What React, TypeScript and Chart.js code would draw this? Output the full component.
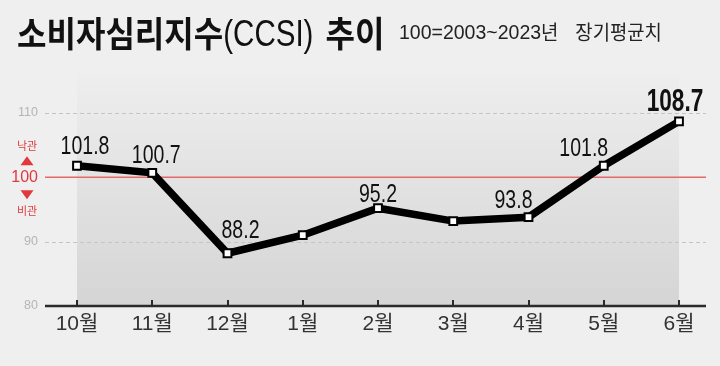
import React, { useEffect, useRef } from 'react';
import { Chart, registerables } from 'chart.js';

Chart.register(...registerables);

// ---- data ----
const months = ['10월', '11월', '12월', '1월', '2월', '3월', '4월', '5월', '6월'];
const ccsi = [101.8, 100.7, 88.2, 91.0, 95.2, 93.2, 93.8, 101.8, 108.7];
const valueLabels = ['101.8', '100.7', '88.2', '', '95.2', '', '93.8', '101.8', '108.7'];
const yMin = 80;
const yMax = 110;
const yStep = 10;
const baseline = 100;
const titleMain = '소비자심리지수';
const titleAbbr = '(CCSI)';
const titleTail = '추이';
const subtitleNum = '100=2003~2023';
const subtitleYear = '년';
const subtitleText = '장기평균치';
const upLabel = '낙관';
const downLabel = '비관';

// ---- styles ----
const SANS = '"Liberation Sans", "Noto Sans CJK KR", sans-serif';
const KR = '"Noto Sans CJK KR", sans-serif';
const RED = '#e0393e';
const NARROW_X = 0.82;
const LABEL_X = 0.75;
const labelOffsets: number[][] = [[8, -12], [4, -9.5], [13, -15], [0, 0], [0, -6], [0, 0], [-15, -9], [-20, -9.5], [-4, -10]];

function txt(ctx: CanvasRenderingContext2D, s: string, x: number, y: number, font: string, color: string,
  align: CanvasTextAlign = 'left', base: CanvasTextBaseline = 'alphabetic', sx = 1): number {
  ctx.save();
  ctx.font = font;
  ctx.fillStyle = color;
  ctx.textAlign = align;
  ctx.textBaseline = base;
  ctx.translate(x, y);
  ctx.scale(sx, 1);
  ctx.fillText(s, 0, 0);
  const w = ctx.measureText(s).width * sx;
  ctx.restore();
  return w;
}

const decor = {
  id: 'decor',
  beforeDraw(chart: any) {
    const { ctx, chartArea: a, scales } = chart;
    const x = scales.x, y = scales.y;
    ctx.save();
    ctx.fillStyle = '#efefef';
    ctx.fillRect(0, 0, chart.width, chart.height);

    // shaded band behind series
    const x0 = x.getPixelForValue(0);
    const x1 = x.getPixelForValue(months.length - 1);
    const yb = y.getPixelForValue(yMin);
    const yt = a.top - 40;
    const g = ctx.createLinearGradient(0, yt, 0, yb);
    g.addColorStop(0, '#eeeeee');
    g.addColorStop(1, '#d5d5d5');
    ctx.fillStyle = g;
    ctx.fillRect(x0, yt, x1 - x0, yb - yt);

    const L = a.left - 32, R = a.right + 27;
    // dashed grid
    ctx.setLineDash([4, 3]);
    ctx.strokeStyle = '#c4c4c4';
    ctx.lineWidth = 1;
    for (let v = yMin + yStep; v <= yMax; v += yStep) {
      if (v === baseline) continue;
      const py = Math.round(y.getPixelForValue(v)) + 0.5;
      ctx.beginPath(); ctx.moveTo(L, py); ctx.lineTo(R, py); ctx.stroke();
    }
    ctx.setLineDash([]);
    // baseline 100
    const p100 = y.getPixelForValue(baseline);
    ctx.strokeStyle = '#e46a6a';
    ctx.lineWidth = 1.5;
    ctx.beginPath(); ctx.moveTo(L, p100); ctx.lineTo(R, p100); ctx.stroke();
    // axis line
    ctx.strokeStyle = '#2a2a2a';
    ctx.lineWidth = 2.5;
    ctx.beginPath(); ctx.moveTo(L, yb); ctx.lineTo(R, yb); ctx.stroke();
    ctx.lineWidth = 2;
    months.forEach((_, i) => {
      const px = Math.round(x.getPixelForValue(i));
      ctx.beginPath(); ctx.moveTo(px, yb); ctx.lineTo(px, yb - 6); ctx.stroke();
    });

    // optimism / pessimism markers
    const cx = a.left - 50;
    txt(ctx, upLabel, cx, p100 - 32, '11px ' + KR, RED, 'center', 'middle');
    txt(ctx, downLabel, cx, p100 + 33, '11px ' + KR, RED, 'center', 'middle');
    ctx.fillStyle = RED;
    ctx.beginPath();
    ctx.moveTo(cx - 6.5, p100 - 12); ctx.lineTo(cx + 6.5, p100 - 12); ctx.lineTo(cx, p100 - 21); ctx.closePath(); ctx.fill();
    ctx.beginPath();
    ctx.moveTo(cx - 6.5, p100 + 13); ctx.lineTo(cx + 6.5, p100 + 13); ctx.lineTo(cx, p100 + 22); ctx.closePath(); ctx.fill();

    // title
    let tx = 17;
    tx += txt(ctx, titleMain, tx, 47, 'bold 35px ' + KR, '#111', 'left', 'alphabetic', 0.915);
    tx += txt(ctx, titleAbbr, tx, 46, '36px ' + SANS, '#111', 'left', 'alphabetic', NARROW_X);
    tx += 12;
    txt(ctx, titleTail, tx, 47, 'bold 35px ' + KR, '#111', 'left', 'alphabetic', 0.915);
    let sx = 399;
    sx += txt(ctx, subtitleNum, sx, 39, '19.5px ' + SANS, '#222');
    sx += txt(ctx, subtitleYear, sx, 40, '20px ' + KR, '#222', 'left', 'alphabetic', 0.94);
    sx += 17;
    txt(ctx, subtitleText, sx, 40, '20px ' + KR, '#222', 'left', 'alphabetic', 0.94);
    ctx.restore();
  },
  afterDatasetsDraw(chart: any) {
    const { ctx } = chart;
    const meta = chart.getDatasetMeta(0);
    meta.data.forEach((pt: any, i: number) => {
      const s = valueLabels[i];
      if (!s) return;
      const last = i === valueLabels.length - 1;
      const [dx, dy] = labelOffsets[i];
      txt(ctx, s, pt.x + dx, pt.y + dy, (last ? 'bold 31px ' : '26px ') + SANS, '#111', 'center', 'alphabetic', last ? 0.73 : LABEL_X);
    });
  },
};

export default function App() {
  const ref = useRef<HTMLCanvasElement>(null);
  useEffect(() => {
    if (!ref.current) return;
    const chart = new Chart(ref.current, {
      type: 'line',
      data: {
        labels: months,
        datasets: [{
          data: ccsi,
          borderColor: '#000',
          borderWidth: 7.5,
          borderJoinStyle: 'miter',
          pointStyle: 'rect',
          pointRadius: 5.5,
          pointBackgroundColor: '#fff',
          pointBorderColor: '#000',
          pointBorderWidth: 2,
          tension: 0,
          fill: false,
        }],
      },
      options: {
        animation: false,
        responsive: false,
        layout: { padding: { top: 113, right: 41, bottom: 0, left: 0 } },
        plugins: { legend: { display: false }, tooltip: { enabled: false }, title: { display: false } },
        scales: {
          x: {
            offset: false,
            grid: { display: false, drawTicks: false },
            border: { display: false },
            ticks: { color: '#333', font: { family: SANS, size: 21 }, padding: 6, maxRotation: 0, autoSkip: false },
            afterFit: (s: any) => { s.height = 60; },
          },
          y: {
            min: yMin,
            max: yMax,
            grid: { display: false, drawTicks: false },
            border: { display: false },
            ticks: {
              stepSize: yStep,
              padding: 39,
              color: (c: any) => (c.tick && c.tick.value === baseline ? RED : '#b5b5b5'),
              font: (c: any) => (c.tick && c.tick.value === baseline ? { family: SANS, size: 16 } : { family: SANS, size: 12.5 }),
            },
            afterFit: (s: any) => { s.width = 77; },
          },
        },
      },
      plugins: [decor],
    });
    return () => chart.destroy();
  }, []);
  return (
    <div style={{ position: 'fixed', left: 0, top: 0, width: 720, height: 366, background: '#efefef' }}>
      <canvas ref={ref} width={720} height={366} style={{ display: 'block' }} />
    </div>
  );
}
